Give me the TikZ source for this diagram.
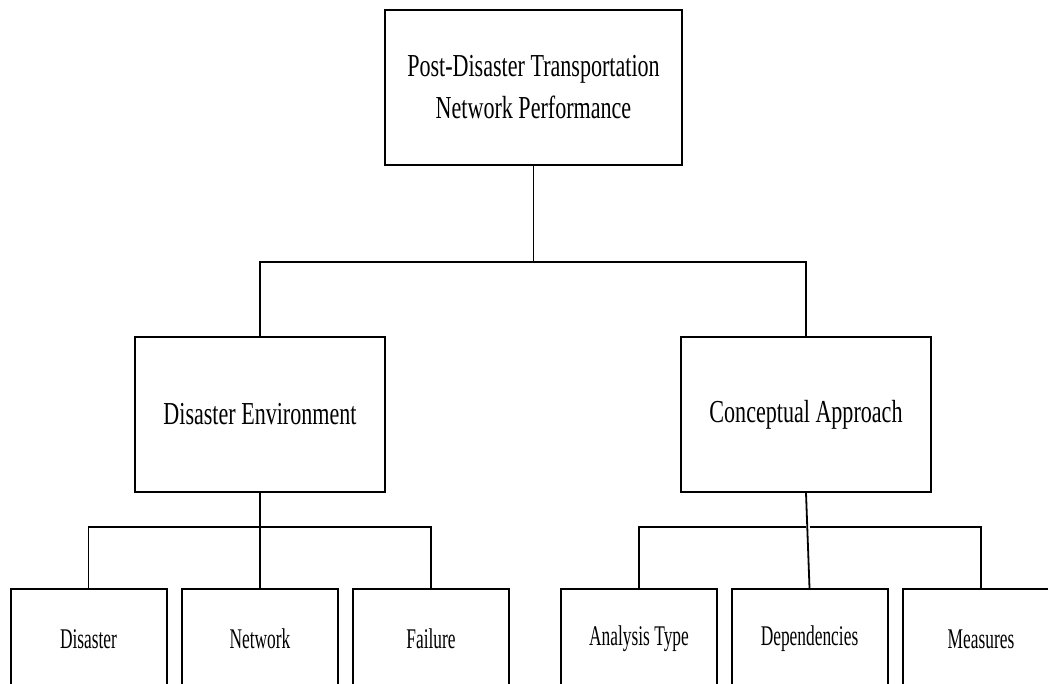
\documentclass[tikz,border=0pt]{standalone}
\usepackage{fontspec}
\newfontfamily\bigfont[FakeStretch=0.69]{Liberation Serif}
\newfontfamily\smallfont[FakeStretch=0.61]{Liberation Serif}
\begin{document}
\begin{tikzpicture}[x=1pt,y=-1pt,
  bigbox/.style={draw, line width=2pt, inner sep=0pt, align=center,
    font=\bigfont\fontsize{32}{42}\selectfont},
  smallbox/.style={draw, line width=2pt, inner sep=0pt, align=center,
    minimum width=156pt, minimum height=100pt,
    font=\smallfont\fontsize{28.5}{36}\selectfont},
  conn/.style={line width=1.8pt}]
\useasboundingbox (0,0) rectangle (1048,684);
\clip (0,0) rectangle (1048,684);
\fill[white] (0,0) rectangle (1048,684);
\node[bigbox, minimum width=297pt, minimum height=155pt] (top) at (533.5,87.5)
  {Post-Disaster Transportation\\Network Performance};
\node[bigbox, minimum width=250pt, minimum height=155pt] (env) at (260,414.5)
  {Disaster Environment};
\node[bigbox, minimum width=250pt, minimum height=155pt] (app) at (806,414.5)
  {Conceptual Approach};
\node[smallbox] (dis) at (88.5,639) {Disaster};
\node[smallbox] (net) at (260,639) {Network};
\node[smallbox] (fail) at (431,639) {Failure};
\node[smallbox] (ana) at (639,639) {Analysis Type};
\node[smallbox] (dep) at (809.5,639) {Dependencies};
\node[smallbox] (mea) at (981,639) {Measures};
\coordinate (b1) at (0,262);
\coordinate (b2) at (0,527);
\draw[conn] (top.south) -- (top.south |- b1);
\draw[conn] (env.north) -- (env.north |- b1) -- (app.north |- b1) -- (app.north);
\draw[conn] (env.south) -- (env.south |- b2);
\draw[conn] (dis.north) -- (dis.north |- b2) -- (fail.north |- b2) -- (fail.north);
\draw[conn] (net.north) -- (net.north |- b2);
\draw[conn] (ana.north) -- (ana.north |- b2) -- (app.south |- b2);
\draw[conn] (app.south) -- (dep.north);
\draw[conn] (dep.north |- b2) -- (mea.north |- b2) -- (mea.north);
\end{tikzpicture}
\end{document}
